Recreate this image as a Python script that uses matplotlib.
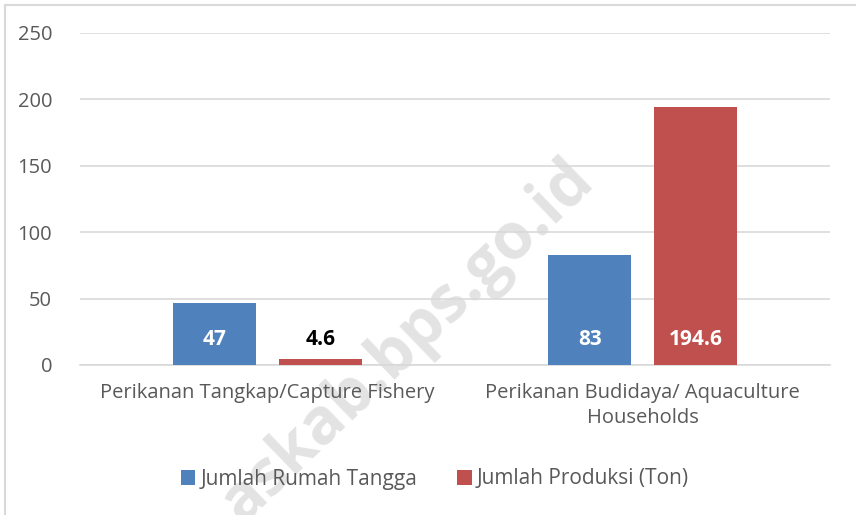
import matplotlib.pyplot as plt
import numpy as np
from matplotlib.patches import Rectangle

categories = ["Perikanan Tangkap/Capture Fishery", "Perikanan Budidaya/ Aquaculture\nHouseholds"]
series_names = ["Jumlah Rumah Tangga", "Jumlah Produksi (Ton)"]
rumah_tangga = [47, 83]
produksi = [4.6, 194.6]
label_colors = [["white", "white"], ["black", "white"]]

BLUE = "#4F81BD"
RED = "#C0504D"
GRAY_TXT = "#595959"

plt.rcParams["font.family"] = ["Open Sans", "DejaVu Sans"]

fig = plt.figure(figsize=(8.56, 5.15), dpi=100)
ax = fig.add_axes([80 / 856, 1 - 365 / 515, 750 / 856, 332 / 515])

x = np.arange(len(categories))
width = 0.221
offset = 0.141
series = [rumah_tangga, produksi]
colors = [BLUE, RED]
for i, (vals, col) in enumerate(zip(series, colors)):
    pos = x + (offset if i else -offset)
    ax.bar(pos, vals, width=width, color=col, label=series_names[i], zorder=3)
    for p, v, tc in zip(pos, vals, label_colors[i]):
        ax.text(p, 19, f"{v:g}", ha="center", va="center", color=tc,
                fontsize=15, fontweight="bold", zorder=4)

ax.set_xlim(-0.5, 1.5)
ax.set_ylim(0, 250)
ax.set_yticks(range(0, 251, 50))
ax.yaxis.grid(True, color="#D9D9D9", linewidth=1.2, zorder=0)
ax.set_axisbelow(True)
for s in ["top", "right", "left"]:
    ax.spines[s].set_visible(False)
ax.spines["bottom"].set_color("#D9D9D9")
ax.spines["bottom"].set_linewidth(1.2)
ax.tick_params(axis="both", length=0, colors=GRAY_TXT, labelsize=14.5)
ax.tick_params(axis="y", pad=20)
ax.tick_params(axis="x", pad=13)
ax.set_xticks(x)
ax.set_xticklabels(categories, linespacing=1.35)

# watermark behind the bars
fig.text(408 / 856, 1 - 342 / 515, "askab.bps.go.id", rotation=44, ha="center", va="center",
         fontsize=46, fontweight="bold", color="#E3E3E3", zorder=0)
ax.patch.set_alpha(0)
ax.set_zorder(2)

leg = fig.legend(loc="center", bbox_to_anchor=(0.508, 1 - 479 / 515), ncol=2, frameon=False,
                 fontsize=15, handlelength=0.7, handleheight=0.7, handletextpad=0.25,
                 columnspacing=1.9)
for t in leg.get_texts():
    t.set_color(GRAY_TXT)

fig.patches.append(Rectangle((5 / 856, -0.01), 1.0, 1 - 5 / 515 + 0.01, transform=fig.transFigure,
                             fill=False, edgecolor="#D9D9D9", linewidth=1.5, zorder=0))

fig.savefig("out.png", dpi=100)
